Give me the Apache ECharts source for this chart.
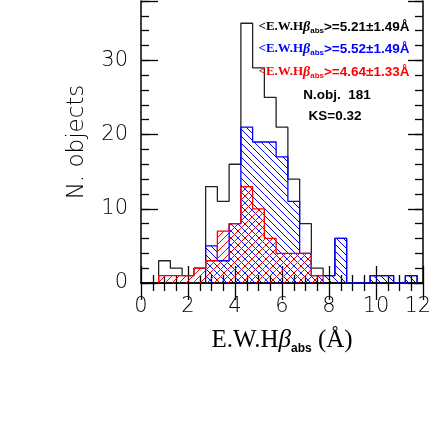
<!DOCTYPE html>
<html>
<head>
<meta charset="utf-8">
<script src="https://cdn.jsdelivr.net/npm/echarts@6/dist/echarts.min.js"></script>
<style>
  html, body { margin: 0; padding: 0; background: #fff; }
  #main { width: 436px; height: 424px; }
</style>
</head>
<body>
<div id="main"></div>
<script>
// bins of width 0.5, centred on these values (Å)
const binWidth = 0.5;
const binCenters = [1.0, 1.5, 2.0, 2.5, 3.0, 3.5, 4.0, 4.5, 5.0, 5.5, 6.0, 6.5, 7.0, 7.5, 8.0, 8.5, 9.0, 9.5, 10.0, 10.5, 11.0, 11.5];
const allCounts  = [3, 2, 1, 2, 13, 11, 16, 35, 29, 25, 21, 14, 8, 2, 1, 6, 0, 0, 1, 1, 0, 1];
const blueCounts = [0, 0, 0, 0, 5, 3, 8, 21, 19, 19, 17, 11, 4, 1, 1, 6, 0, 0, 1, 1, 0, 1];
const redCounts  = [1, 1, 1, 2, 3, 7, 8, 13, 10, 6, 4, 4, 4, 1, 0, 0, 0, 0, 0, 0, 0, 0];

const xTicks = [0, 2, 4, 6, 8, 10, 12];
const yTicks = [0, 10, 20, 30];
const yMax = 38;

const notes = [
    { mean: "5.21", sd: "1.49", color: "#000000" },
    { mean: "5.52", sd: "1.49", color: "#0000ff" },
    { mean: "4.64", sd: "1.33", color: "#ff0000" }
];
const nObj = 181;
const ks = "0.32";

function hatch(color, dir) {
    const s = 7;
    const c = document.createElement("canvas");
    c.width = s;
    c.height = s;
    const g = c.getContext("2d");
    g.strokeStyle = color;
    g.lineWidth = 1;
    g.beginPath();
    if (dir > 0) {
        g.moveTo(0, s); g.lineTo(s, 0);
        g.moveTo(-1, 1); g.lineTo(1, -1);
        g.moveTo(s - 1, s + 1); g.lineTo(s + 1, s - 1);
    } else {
        g.moveTo(0, 0); g.lineTo(s, s);
        g.moveTo(-1, s - 1); g.lineTo(1, s + 1);
        g.moveTo(s - 1, -1); g.lineTo(s + 1, 1);
    }
    g.stroke();
    return { image: c, repeat: "repeat" };
}

function stepData(counts) {
    let first = counts.findIndex(v => v > 0);
    let last = counts.length - 1;
    while (last > 0 && !counts[last]) last--;
    const pts = [[binCenters[first] - binWidth / 2, 0]];
    for (let i = first; i <= last; i++) {
        pts.push([binCenters[i] - binWidth / 2, counts[i]]);
    }
    pts.push([binCenters[last] + binWidth / 2, 0]);
    return pts;
}

function hatchSeries(counts, pattern) {
    return {
        type: "custom",
        silent: true,
        data: binCenters.map((c, i) => [c, counts[i]]),
        renderItem: (params, api) => {
            const c = api.value(0);
            const n = api.value(1);
            if (!n) return;
            const p0 = api.coord([c - binWidth / 2, n]);
            const p1 = api.coord([c + binWidth / 2, 0]);
            return {
                type: "rect",
                shape: { x: p0[0], y: p0[1], width: p1[0] - p0[0], height: p1[1] - p0[1] },
                style: { fill: pattern, stroke: null }
            };
        }
    };
}

function stepSeries(counts, color) {
    return {
        type: "line",
        step: "end",
        symbol: "none",
        silent: true,
        data: stepData(counts),
        lineStyle: { color: color, width: 1.3 },
        z: 5
    };
}

const axisLine = { show: true, lineStyle: { color: "#000", width: 1.5 } };
const noLine = { show: false };

function xAx(pos, withLabels) {
    return {
        type: "value",
        position: pos,
        min: 0,
        max: 12,
        interval: 2,
        axisLine: axisLine,
        axisTick: { show: true, inside: true, length: 17, lineStyle: { color: "#000", width: 1.3 } },
        minorTick: { show: true, splitNumber: 4, length: 8, lineStyle: { color: "#000", width: 1.3 } },
        splitLine: { show: false },
        axisLabel: withLabels ? {
            show: true, fontSize: 21, color: "#000", margin: 13,
            fontFamily: "DejaVu Sans", fontWeight: 300,
            // last label sits slightly left of its tick, as in the original
            formatter: v => v === 12 ? "12\u2002" : (xTicks.includes(v) ? String(v) : "")
        } : { show: false }
    };
}

function yAx(pos, step, len, withLine, withLabels) {
    return {
        type: "value",
        position: pos,
        min: 0,
        max: yMax,
        interval: step,
        axisLine: withLine ? axisLine : noLine,
        axisTick: { show: true, inside: true, length: len, lineStyle: { color: "#000", width: 1.3 } },
        splitLine: { show: false },
        axisLabel: withLabels ? {
            show: true, fontSize: 21, color: "#000", margin: 13,
            fontFamily: "DejaVu Sans", fontWeight: 300,
            formatter: v => yTicks.includes(v) ? String(v) : ""
        } : { show: false }
    };
}

const chart = echarts.init(document.getElementById("main"), null, { renderer: "canvas" });

const xBottom = xAx("bottom", true);
xBottom.name = "{a|E.W.H}{b|β}{c|abs}{a| (Å)}";
xBottom.nameLocation = "middle";
xBottom.nameGap = 42;
xBottom.nameTextStyle = {
    color: "#000",
    rich: {
        a: { fontFamily: "Liberation Serif", fontSize: 25, lineHeight: 30, color: "#000" },
        b: { fontFamily: "Liberation Serif", fontStyle: "italic", fontSize: 25, lineHeight: 30, color: "#000" },
        c: { fontFamily: "Liberation Sans", fontWeight: "bold", fontSize: 12, lineHeight: 12, verticalAlign: "bottom", color: "#000" }
    }
};

const yLeft = yAx("left", 10, 17, true, true);
yLeft.name = "N. objects";
yLeft.nameLocation = "middle";
yLeft.nameGap = 52;
yLeft.nameTextStyle = { fontFamily: "DejaVu Sans", fontWeight: 300, fontSize: 23, color: "#000" };

function noteText(n) {
    return "{a|<E.W.H}{b|β}{c|abs}{d|>=" + n.mean + "±" + n.sd + "Å}";
}
function noteRich(color) {
    return {
        a: { fontFamily: "Liberation Serif", fontWeight: "bold", fontSize: 13, lineHeight: 16, fill: color },
        b: { fontFamily: "Liberation Serif", fontWeight: "bold", fontStyle: "italic", fontSize: 14, lineHeight: 16, fill: color },
        c: { fontFamily: "Liberation Sans", fontWeight: "bold", fontSize: 8, lineHeight: 8, verticalAlign: "bottom", fill: color },
        d: { fontFamily: "Liberation Sans", fontWeight: "bold", fontSize: 13.5, lineHeight: 16, fill: color }
    };
}

const noteY = [27, 49, 72];
const graphics = notes.map((n, i) => ({
    type: "text",
    x: 334,
    y: noteY[i],
    z: 10,
    style: {
        text: noteText(n),
        rich: noteRich(n.color),
        fill: n.color,
        align: "center",
        verticalAlign: "middle"
    }
}));
graphics.push({
    type: "text", x: 337, y: 95, z: 10,
    style: { text: "N.obj.  " + nObj, fontFamily: "Liberation Sans", fontWeight: "bold", fontSize: 13.5, fill: "#000", align: "center", verticalAlign: "middle" }
});
graphics.push({
    type: "text", x: 335, y: 116, z: 10,
    style: { text: "KS=" + ks, fontFamily: "Liberation Sans", fontWeight: "bold", fontSize: 13.5, fill: "#000", align: "center", verticalAlign: "middle" }
});

const option = {
    animation: false,
    backgroundColor: "#fff",
    grid: { left: 141, right: 13, top: 1, bottom: 141, outerBoundsMode: "none", containLabel: false },
    xAxis: [xBottom, xAx("top", false)],
    yAxis: [
        yLeft,
        yAx("left", 2, 8, false, false),
        yAx("right", 10, 15, true, false),
        yAx("right", 2, 8, false, false)
    ],
    series: [
        hatchSeries(blueCounts, hatch("#0000ff", -1)),
        hatchSeries(redCounts, hatch("#ff0000", 1)),
        stepSeries(allCounts, "#222"),
        stepSeries(blueCounts, "#0000ff"),
        stepSeries(redCounts, "#ff0000")
    ],
    graphic: graphics
};

chart.setOption(option);
</script>
</body>
</html>
